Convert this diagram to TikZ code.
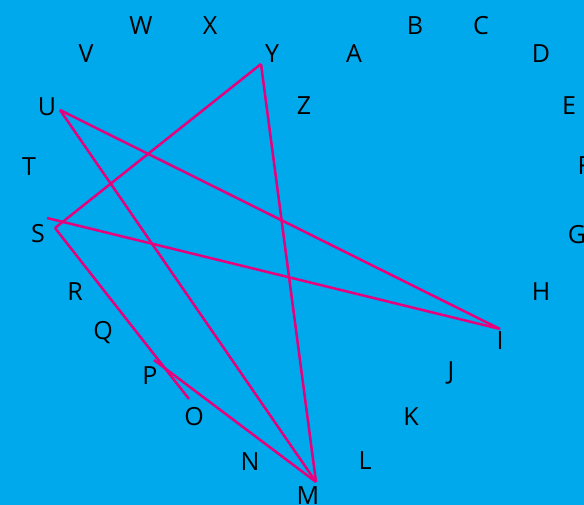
\documentclass[tikz,border=0pt]{standalone}
\usepackage{fontspec}
\setmainfont{Open Sans}
\usepackage{xcolor}
\definecolor{sky}{RGB}{0,169,236}
\definecolor{rose}{RGB}{230,0,126}
\tikzset{
  letter/.style={inner sep=0pt, font=\fontsize{25}{25}\selectfont, text=black},
  link/.style={draw=rose, line width=2.5pt},
}

\begin{document}
\begin{tikzpicture}[x=1pt, y=-1pt]
  \fill[sky] (0,0) rectangle (584,505);
  \useasboundingbox (0,0) rectangle (584,505);

  % letters round the heart
  \foreach \name/\x/\y in {A/354/54, B/415/26, C/481/26, D/541/54, E/569/106,
      F/584/166, G/577/235, H/541/292, I/500/341, J/451/373, K/411/417,
      L/365/461, M/308/496, N/250/462, O/194/417, P/150/376, Q/103/333,
      R/75/292, S/38/234, T/29/167, U/47/107, V/86/54, W/141/26, X/210/26,
      Y/272/54, Z/304/106}
    \node[letter] (\name) at (\x,\y) {\name};

  % ends of the strokes
  \coordinate (tipY)  at (261,64);
  \coordinate (tipU)  at (60,110);
  \coordinate (tipSa) at (47,218);
  \coordinate (tipSb) at (55,228);
  \coordinate (tipI)  at (500,329);
  \coordinate (tipM)  at (316,482);
  \coordinate (tipP)  at (154,360);
  \coordinate (tipO)  at (189,399);

  \foreach \a/\b in {tipU/tipI, tipU/tipM, tipY/tipM, tipY/tipSb,
      tipSa/tipI, tipSb/tipO, tipP/tipM}
    \draw[link] (\a) -- (\b);
\end{tikzpicture}
\end{document}
